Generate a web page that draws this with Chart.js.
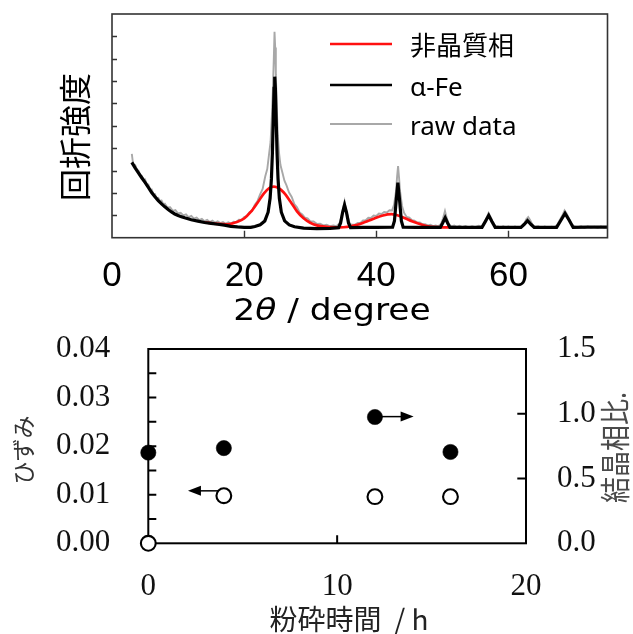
<!DOCTYPE html>
<html><head><meta charset="utf-8">
<script src="https://cdn.jsdelivr.net/npm/chart.js@4.4.1/dist/chart.umd.min.js"></script>
<style>
html,body{margin:0;padding:0;background:#fff;overflow:hidden}
#wrap{position:relative;width:633px;height:634px;background:#fff}
#c1{position:absolute;left:0;top:0}
#c2{position:absolute;left:0;top:330px}
</style></head><body>
<div id="wrap"><canvas id="c1" width="633" height="330"></canvas><canvas id="c2" width="633" height="304"></canvas></div>
<script>
// ---------- top panel data (XRD) ----------
const fitX = [3, 3.5, 4, 4.5, 5, 5.5, 6, 6.5, 7, 7.5, 8, 8.5, 9, 9.5, 10, 10.5, 11, 12, 13, 14, 15, 16, 17, 18, 19, 20, 21, 21.63, 22.43, 23.13, 23.63, 23.93, 24.13, 24.28, 24.43, 24.53, 24.63, 24.73, 24.83, 24.98, 25.13, 25.33, 25.63, 26.13, 26.83, 27.63, 29, 31, 33, 34.3, 34.6, 34.9, 35.2, 35.5, 35.8, 36.1, 38, 40, 42.47, 42.75, 43.0, 43.27, 43.55, 43.8, 44.07, 46, 48, 49.7, 50.05, 50.43, 50.8, 51.15, 53, 56.0, 56.5, 57.02, 57.5, 58.0, 60, 61.9, 62.4, 62.9, 63.4, 63.9, 66, 67.3, 67.95, 68.57, 69.2, 69.8, 72, 75];
const fitY = [3.37, 3.12, 2.9, 2.68, 2.47, 2.25, 2.02, 1.83, 1.66, 1.51, 1.38, 1.26, 1.15, 1.06, 0.99, 0.94, 0.89, 0.8, 0.74, 0.68, 0.64, 0.6, 0.56, 0.51, 0.48, 0.46, 0.46, 0.5, 0.58, 0.75, 1.14, 1.76, 2.64, 3.8, 5.52, 6.68, 7.2, 6.68, 5.52, 3.8, 2.64, 1.76, 1.14, 0.75, 0.57, 0.49, 0.43, 0.41, 0.42, 0.45, 0.66, 1.12, 1.46, 1.12, 0.66, 0.45, 0.46, 0.46, 0.47, 0.75, 1.6, 2.46, 1.6, 0.75, 0.47, 0.46, 0.46, 0.46, 0.66, 0.89, 0.66, 0.46, 0.46, 0.46, 0.72, 1.0, 0.72, 0.46, 0.46, 0.46, 0.6, 0.76, 0.6, 0.46, 0.46, 0.46, 0.78, 1.09, 0.78, 0.46, 0.47, 0.47];
const amorphX = [14, 16, 17.5, 19, 20, 21, 22, 23, 23.8, 24.5, 25.2, 26, 27, 28, 29, 30, 31, 32.5, 34.5, 37, 38.3, 39.5, 41, 42.3, 43.8, 45.5, 47.6, 49.1, 52];
const amorphY = [0.69, 0.62, 0.6, 0.71, 0.86, 1.15, 1.55, 1.98, 2.22, 2.28, 2.22, 2.02, 1.62, 1.18, 0.87, 0.67, 0.55, 0.48, 0.46, 0.57, 0.7, 0.84, 0.99, 1.05, 0.94, 0.72, 0.52, 0.47, 0.46];
const rawX = [3.0, 3.2, 3.5, 3.8, 4.0, 4.3, 4.5, 4.8, 5.0, 5.3, 5.5, 5.8, 6.0, 6.3, 6.5, 6.8, 7.0, 7.3, 7.5, 7.8, 8.0, 8.4, 8.8, 9.2, 9.6, 10.0, 10.4, 10.8, 11.2, 11.6, 12.0, 12.4, 12.8, 13.2, 13.6, 14.0, 14.4, 14.8, 15.2, 15.6, 16.0, 16.4, 16.8, 17.2, 17.6, 18.0, 18.4, 18.8, 19.2, 19.6, 20.0, 20.4, 20.8, 21.2, 21.6, 22.0, 22.4, 22.8, 23.2, 23.5, 23.8, 24.0, 24.2, 24.35, 24.5, 24.6, 24.7, 24.8, 24.95, 25.1, 25.3, 25.5, 25.8, 26.1, 26.4, 26.8, 27.2, 27.6, 28.0, 28.4, 28.8, 29.2, 29.6, 30.0, 30.5, 31.0, 31.5, 32.0, 32.5, 33.0, 33.5, 34.0, 34.4, 34.7, 35.0, 35.2, 35.4, 35.7, 36.0, 36.4, 36.8, 37.2, 37.6, 38.0, 38.4, 38.8, 39.2, 39.6, 40.0, 40.4, 40.8, 41.2, 41.6, 42.0, 42.4, 42.7, 43.0, 43.15, 43.3, 43.45, 43.6, 43.9, 44.2, 44.6, 45.0, 45.4, 45.8, 46.2, 46.6, 47.0, 47.4, 47.8, 48.2, 48.6, 49.0, 49.4, 49.8, 50.1, 50.4, 50.7, 51.0, 51.4, 51.8, 52.2, 52.6, 53.0, 53.5, 54.0, 54.5, 55.0, 55.5, 56.0, 56.4, 56.8, 57.0, 57.2, 57.6, 58.0, 58.4, 58.8, 59.2, 59.6, 60.0, 60.5, 61.0, 61.5, 62.0, 62.4, 62.7, 63.0, 63.3, 63.6, 64.0, 64.5, 65.0, 65.5, 66.0, 66.5, 67.0, 67.4, 67.8, 68.2, 68.5, 68.8, 69.2, 69.6, 70.0, 70.5, 71.0, 71.5, 72.0, 72.5, 73.0, 73.5, 74.0, 74.5, 75.0];
const rawY = [3.75, 3.28, 3.25, 3.02, 3.0, 2.78, 2.77, 2.58, 2.6, 2.36, 2.37, 2.14, 2.16, 1.93, 1.95, 1.76, 1.78, 1.63, 1.66, 1.49, 1.52, 1.35, 1.36, 1.2, 1.23, 1.08, 1.11, 1.0, 1.04, 0.92, 0.97, 0.85, 0.9, 0.79, 0.84, 0.74, 0.8, 0.7, 0.76, 0.67, 0.73, 0.65, 0.7, 0.62, 0.69, 0.63, 0.71, 0.69, 0.8, 0.79, 0.92, 0.96, 1.14, 1.2, 1.46, 1.63, 1.93, 2.18, 2.75, 3.07, 3.8, 4.28, 5.45, 6.6, 8.1, 9.2, 8.5, 7.3, 5.75, 4.55, 3.75, 3.25, 2.9, 2.55, 2.35, 2.02, 1.82, 1.5, 1.36, 1.13, 1.04, 0.9, 0.87, 0.74, 0.73, 0.62, 0.63, 0.55, 0.58, 0.51, 0.55, 0.52, 0.62, 0.88, 1.36, 1.62, 1.28, 0.94, 0.6, 0.58, 0.59, 0.66, 0.66, 0.77, 0.78, 0.89, 0.88, 0.99, 0.97, 1.08, 1.06, 1.15, 1.13, 1.23, 1.22, 1.48, 2.1, 2.72, 3.2, 2.68, 2.08, 1.42, 1.12, 0.93, 0.9, 0.78, 0.76, 0.68, 0.68, 0.6, 0.6, 0.55, 0.58, 0.52, 0.55, 0.51, 0.62, 0.86, 1.19, 0.84, 0.6, 0.5, 0.54, 0.48, 0.53, 0.47, 0.52, 0.46, 0.51, 0.47, 0.53, 0.5, 0.68, 0.95, 1.1, 0.98, 0.74, 0.52, 0.5, 0.45, 0.51, 0.46, 0.5, 0.44, 0.5, 0.45, 0.5, 0.62, 0.82, 0.92, 0.78, 0.6, 0.48, 0.51, 0.44, 0.5, 0.45, 0.49, 0.47, 0.58, 0.8, 1.02, 1.22, 1.08, 0.84, 0.6, 0.5, 0.47, 0.51, 0.44, 0.5, 0.46, 0.49, 0.44, 0.5, 0.45, 0.48];
const topXTicks = [0, 20, 40, 60];
const topYTicks = [0, 1, 2, 3, 4, 5, 6, 7, 8, 9, 10];
const topLabels = ['非晶質相', 'α-Fe', 'raw data'];

// ---------- bottom panel data ----------
const millTime = [0, 4, 12, 16];
const strain = [0, 0.0098, 0.0096, 0.0096];
const crystalRatio = [0.70, 0.735, 0.975, 0.705];
const timeTicks = [0, 10, 20];
const strainTicks = [0, 0.01, 0.02, 0.03, 0.04];
const strainMinorTicks = [0.005, 0.015, 0.025, 0.035];
const ratioTicks = [0, 0.5, 1.0, 1.5];
const strainArrowX = [4, 2.1], strainArrowY = [0.0108, 0.0108];
const ratioArrowX = [12, 14.05], ratioArrowY = [0.978, 0.978];

function pts(xs, ys) { return xs.map((x, i) => ({x: x, y: ys[i]})); }
function setTicks(arr) { return s => { s.ticks = arr.map(v => ({value: v})); }; }
function fixSize(w, h) {
  return s => {
    if (w !== null) s.width = w;
    if (h !== null) s.height = h;
    s.paddingTop = 0; s.paddingBottom = 0; s.paddingLeft = 0; s.paddingRight = 0;
  };
}

const CJK = '"Noto Sans CJK JP", sans-serif';

function vText(ctx, text, x, y, font, color, stretch) {
  ctx.save();
  ctx.translate(x, y);
  ctx.rotate(-Math.PI / 2);
  if (stretch) ctx.scale(1, stretch);
  ctx.font = font; ctx.fillStyle = color;
  ctx.textAlign = 'center'; ctx.textBaseline = 'middle';
  ctx.fillText(text, 0, 0);
  ctx.restore();
}

const topDecor = {
  id: 'topDecor',
  afterDraw(chart) {
    const ctx = chart.ctx, a = chart.chartArea, sx = chart.scales.x, sy = chart.scales.y;
    ctx.save();
    ctx.strokeStyle = '#333'; ctx.lineWidth = 1.6;
    ctx.strokeRect(a.left, a.top, a.right - a.left, a.bottom - a.top);
    ctx.lineWidth = 1.4;
    ctx.beginPath();
    topYTicks.slice(1, -1).forEach(v => {
      const y = Math.round(sy.getPixelForValue(v)) + 0.5;
      ctx.moveTo(a.left, y); ctx.lineTo(a.left + 5, y);
    });
    topXTicks.slice(1).forEach(v => {
      const x = Math.round(sx.getPixelForValue(v)) + 0.5;
      ctx.moveTo(x, a.bottom); ctx.lineTo(x, a.bottom - 7);
    });
    ctx.stroke();
    // legend
    const rows = [44, 85, 124];
    chart.data.datasets.forEach((ds, i) => {
      ctx.strokeStyle = ds.borderColor; ctx.lineWidth = i === 2 ? 2 : 2.6;
      ctx.beginPath(); ctx.moveTo(330, rows[i]); ctx.lineTo(392, rows[i]); ctx.stroke();
      ctx.fillStyle = '#000'; ctx.font = '26px "Noto Sans", ' + CJK;
      ctx.textAlign = 'left'; ctx.textBaseline = 'middle';
      ctx.fillText(ds.label, 410, rows[i] + 3.5);
    });
    // x title: 2θ / degree
    ctx.save();
    ctx.translate(332, 320);
    ctx.scale(1.15, 1);
    const fN = '30px "DejaVu Sans", sans-serif', fI = 'italic 30px "DejaVu Sans", sans-serif';
    ctx.fillStyle = '#000'; ctx.textBaseline = 'alphabetic'; ctx.textAlign = 'left';
    ctx.font = fN; const w1 = ctx.measureText('2').width, w3 = ctx.measureText(' / degree').width;
    ctx.font = fI; const w2 = ctx.measureText('θ').width;
    let x0 = -(w1 + w2 + w3) / 2;
    ctx.font = fN; ctx.fillText('2', x0, 0);
    ctx.font = fI; ctx.fillText('θ', x0 + w1, 0);
    ctx.font = fN; ctx.fillText(' / degree', x0 + w1 + w2, 0);
    ctx.restore();
    vText(ctx, '回折強度', 75, 137, '32px ' + CJK, '#000');
    ctx.restore();
  }
};

new Chart(document.getElementById('c1'), {
  type: 'line',
  data: {datasets: [
    {label: topLabels[0], data: pts(amorphX, amorphY), borderColor: '#ff1010', borderWidth: 2.7, pointRadius: 0, cubicInterpolationMode: 'monotone', order: 2},
    {label: topLabels[1], data: pts(fitX, fitY), borderColor: '#000000', borderWidth: 3.2, pointRadius: 0, tension: 0, order: 1},
    {label: topLabels[2], data: pts(rawX, rawY), borderColor: '#a8a8a8', borderWidth: 1.9, pointRadius: 0, tension: 0, order: 3}
  ]},
  options: {
    responsive: false, animation: false, devicePixelRatio: 1,
    layout: {padding: {left: 0, right: 25.5, top: 14, bottom: 0}},
    plugins: {legend: {display: false}, tooltip: {enabled: false}},
    scales: {
      x: {type: 'linear', min: 0, max: 75, afterBuildTicks: setTicks(topXTicks),
          grid: {display: false, drawTicks: false}, border: {display: false},
          ticks: {padding: 18, color: '#000', maxRotation: 0, autoSkip: false,
                  font: {family: '"Liberation Sans", Arial, sans-serif', size: 35}},
          afterFit: fixSize(null, 92.3)},
      y: {type: 'linear', min: 0, max: 10, afterBuildTicks: setTicks(topYTicks),
          grid: {display: false, drawTicks: false}, border: {display: false},
          ticks: {display: false},
          afterFit: fixSize(112, null)}
    }
  },
  plugins: [topDecor]
});

// ---------- bottom chart ----------
function arrow(ctx, x1, y1, x2, y2) {
  const dir = Math.sign(x2 - x1);
  ctx.beginPath(); ctx.moveTo(x1, y1); ctx.lineTo(x2 - dir * 11, y2); ctx.stroke();
  ctx.beginPath(); ctx.moveTo(x2, y2); ctx.lineTo(x2 - dir * 13, y2 - 5); ctx.lineTo(x2 - dir * 13, y2 + 5); ctx.closePath(); ctx.fill();
}

const botDecor = {
  id: 'botDecor',
  beforeDatasetsDraw(chart) {
    const ctx = chart.ctx, sx = chart.scales.x, sy = chart.scales.y, sy1 = chart.scales.y1;
    ctx.save();
    ctx.strokeStyle = '#000'; ctx.fillStyle = '#000'; ctx.lineWidth = 1.5;
    arrow(ctx, sx.getPixelForValue(strainArrowX[0]), sy.getPixelForValue(strainArrowY[0]), sx.getPixelForValue(strainArrowX[1]), sy.getPixelForValue(strainArrowY[1]));
    arrow(ctx, sx.getPixelForValue(ratioArrowX[0]), sy1.getPixelForValue(ratioArrowY[0]), sx.getPixelForValue(ratioArrowX[1]), sy1.getPixelForValue(ratioArrowY[1]));
    ctx.restore();
  },
  beforeDraw(chart) {
    const ctx = chart.ctx, a = chart.chartArea, sx = chart.scales.x, sy = chart.scales.y, sy1 = chart.scales.y1;
    ctx.save();
    ctx.strokeStyle = '#000'; ctx.lineWidth = 2;
    ctx.strokeRect(a.left, a.top, a.right - a.left, a.bottom - a.top);
    ctx.beginPath();
    strainTicks.slice(1, -1).concat(strainMinorTicks).forEach(v => {
      const y = sy.getPixelForValue(v);
      ctx.moveTo(a.left, y); ctx.lineTo(a.left + 8, y);
    });
    ratioTicks.slice(1, -1).forEach(v => {
      const y = sy1.getPixelForValue(v);
      ctx.moveTo(a.right, y); ctx.lineTo(a.right - 8.7, y);
    });
    timeTicks.slice(1, -1).forEach(v => {
      const x = sx.getPixelForValue(v);
      ctx.moveTo(x, a.bottom); ctx.lineTo(x, a.bottom - 8);
    });
    ctx.stroke();
    vText(ctx, 'ひずみ', 23.5, 120, '23px ' + CJK, '#333');
    vText(ctx, '結晶相比.', 615, 117.5, '26px ' + CJK, '#4a4a4a', 1.15);
    ctx.fillStyle = '#222'; ctx.font = '28px ' + CJK;
    ctx.textAlign = 'center'; ctx.textBaseline = 'middle';
    ctx.fillText('粉砕時間  / h', 349, 289);
    ctx.restore();
  }
};

const serif = {family: '"Liberation Serif", "Times New Roman", serif', size: 31};
new Chart(document.getElementById('c2'), {
  type: 'scatter',
  data: {datasets: [
    {label: 'ひずみ', data: pts(millTime, strain), yAxisID: 'y', pointStyle: 'circle', pointRadius: 7.4, pointBorderWidth: 2.1, pointBackgroundColor: '#ffffff', pointBorderColor: '#000000', showLine: false, clip: false},
    {label: '結晶相比.', data: pts(millTime, crystalRatio), yAxisID: 'y1', pointStyle: 'circle', pointRadius: 7.6, pointBorderWidth: 0.6, pointBackgroundColor: '#000000', pointBorderColor: '#000000', showLine: false, clip: false}
  ]},
  options: {
    responsive: false, animation: false, devicePixelRatio: 1,
    layout: {padding: {left: 0, right: 0, top: 19, bottom: 0}},
    plugins: {legend: {display: false}, tooltip: {enabled: false}},
    scales: {
      x: {type: 'linear', min: 0, max: 20, afterBuildTicks: setTicks(timeTicks),
          grid: {display: false, drawTicks: false}, border: {display: false},
          ticks: {padding: 24.5, color: '#111', maxRotation: 0, autoSkip: false, font: serif},
          afterFit: fixSize(null, 90.7)},
      y: {type: 'linear', position: 'left', min: 0, max: 0.04, afterBuildTicks: setTicks(strainTicks),
          grid: {display: false, drawTicks: false}, border: {display: false},
          ticks: {padding: 38, color: '#111', autoSkip: false, font: serif, callback: v => v.toFixed(2)},
          afterFit: fixSize(148.3, null)},
      y1: {type: 'linear', position: 'right', min: 0, max: 1.5, afterBuildTicks: setTicks(ratioTicks),
          grid: {display: false, drawTicks: false}, border: {display: false},
          ticks: {padding: 31, color: '#111', autoSkip: false, font: serif, callback: v => v.toFixed(1)},
          afterFit: fixSize(107, null)}
    }
  },
  plugins: [botDecor]
});
</script>
</body></html>
